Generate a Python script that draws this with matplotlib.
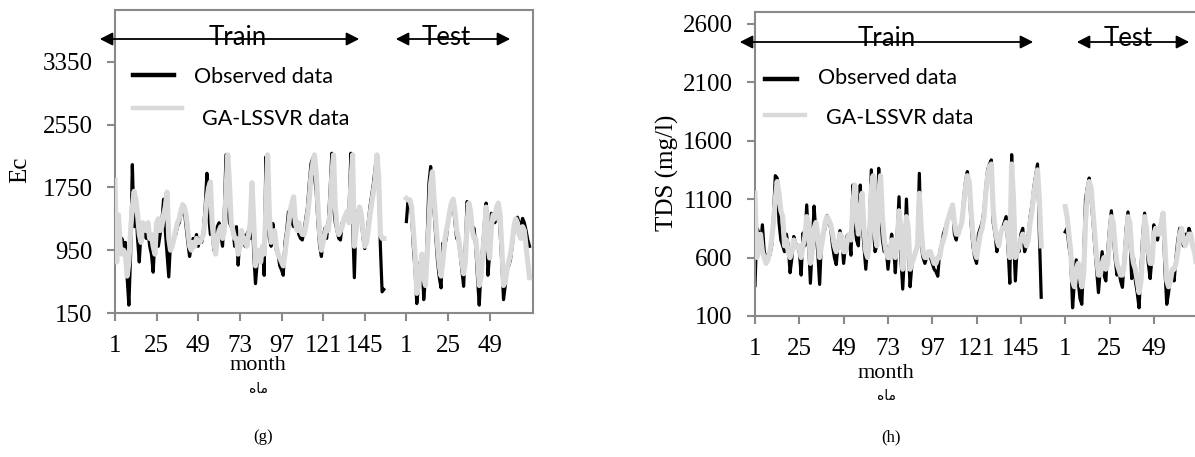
import numpy as np
import matplotlib
matplotlib.use("Agg")
import matplotlib.pyplot as plt
from matplotlib.lines import Line2D
from matplotlib.patches import FancyArrowPatch

# ---------------- data ----------------
n_train_slots = 168          # category slots used by the training period
tick_positions = [1, 25, 49, 73, 97, 121, 145, 169, 193, 217]
tick_labels = ['1', '25', '49', '73', '97', '121', '145', '1', '25', '49']

# (g) Ec
ec_train_obs = [950, 1000, 1150, 1050, 1100, 1000, 1050, 600, 250, 900,
                2040, 1250, 1550, 1100, 800, 1200, 1150, 1250, 1100, 1200,
                1000, 900, 670, 1100, 1200, 1000, 1150, 1300, 1600, 1200,
                900, 610, 1050, 1080, 1100, 1150, 1250, 1300, 1400, 1500,
                1450, 1250, 1050, 870, 1000, 1100, 1050, 1150, 1000, 1100,
                1050, 1200, 1500, 1930, 1400, 1150, 1200, 950, 950, 1250,
                1300, 1150, 1000, 1400, 2165, 1500, 1300, 1250, 1200, 1000,
                1250, 760, 1100, 1050, 1150, 1000, 1150, 1200, 1100, 1500,
                900, 524, 800, 860, 880, 1000, 630, 2140, 1300, 1100,
                1000, 1290, 1100, 950, 900, 750, 700, 630, 1050, 1200,
                1440, 1400, 1300, 1250, 1350, 1250, 1150, 1100, 1080, 1200,
                1350, 1500, 1800, 2050, 2120, 1900, 1700, 1300, 1000, 870,
                1100, 1230, 1100, 1300, 1700, 2185, 1500, 1300, 1200, 1100,
                1080, 1300, 1350, 1400, 1350, 1500, 2185, 1300, 600, 1400,
                1450, 1400, 1350, 1100, 970, 1100, 1300, 1500, 1650, 1800,
                2000, 2165, 1800, 1000, 420, 450]
ec_train_model = [1840, 800, 1400, 1000, 900, 950, 900, 620, 800, 1200,
                  1500, 1700, 1600, 1400, 1150, 1050, 1300, 1250, 1200, 1300,
                  1100, 1150, 1000, 900, 1300, 1350, 1200, 1250, 1400, 1500,
                  1690, 1100, 950, 1000, 1100, 1200, 1300, 1350, 1450, 1530,
                  1500, 1400, 1200, 1000, 950, 1050, 1000, 1100, 1050, 1050,
                  1100, 1150, 1350, 1600, 1750, 1820, 1300, 1050, 900, 1100,
                  1200, 1250, 1100, 1200, 1700, 2165, 1800, 1300, 1200, 1100,
                  1100, 900, 1000, 1200, 1050, 1100, 1000, 1150, 1300, 1810,
                  1300, 750, 900, 950, 800, 1000, 900, 1500, 2165, 1400,
                  1050, 1100, 1200, 1000, 900, 850, 800, 750, 900, 1100,
                  1250, 1450, 1550, 1630, 1300, 1200, 1300, 1200, 1150, 1150,
                  1250, 1400, 1600, 1900, 2050, 2165, 1950, 1500, 1150, 950,
                  1050, 1150, 1250, 1200, 1450, 1900, 2165, 1500, 1250, 1150,
                  1200, 1250, 1350, 1400, 1450, 1300, 1800, 2165, 1000, 1200,
                  1350, 1500, 1400, 1200, 1000, 1050, 1200, 1400, 1550, 1700,
                  1850, 2165, 1900, 1150, 1100, 1100]
ec_test_obs = [1315, 1600, 1550, 1400, 1000, 700, 270, 500, 800, 850,
               320, 600, 1100, 1800, 2016, 1700, 1440, 1100, 800, 600,
               470, 1040, 1000, 1100, 1300, 1400, 1500, 1590, 1300, 1100,
               1080, 900, 700, 490, 1000, 1570, 1500, 1300, 1250, 1230,
               1000, 600, 250, 700, 1000, 1300, 1550, 630, 900, 1420,
               1400, 1300, 1450, 1550, 1200, 800, 320, 500, 700, 750,
               830, 1000, 1200, 1300, 1370, 1300, 1250, 1355, 1300, 1200,
               1080, 1000]
ec_test_model = [1610, 1590, 1590, 1500, 1200, 900, 400, 500, 700, 900,
                 600, 500, 900, 1300, 1800, 1950, 1600, 1300, 1000, 750,
                 620, 800, 1050, 1200, 1300, 1450, 1550, 1600, 1450, 1200,
                 1100, 950, 800, 650, 800, 1300, 1550, 1450, 1200, 1100,
                 1100, 850, 500, 600, 900, 1200, 1500, 1000, 850, 1250,
                 1400, 1350, 1500, 1550, 1400, 1000, 500, 550, 700, 800,
                 900, 1050, 1250, 1350, 1300, 1150, 1100, 1250, 1200, 1000,
                 800, 600]

# (h) TDS
tds_train_obs = [360, 850, 820, 700, 880, 650, 600, 580, 620, 700,
                 950, 1300, 1280, 900, 750, 700, 650, 800, 700, 470,
                 600, 780, 720, 700, 650, 450, 810, 700, 1050, 750,
                 380, 700, 1040, 800, 650, 370, 750, 800, 850, 960,
                 900, 850, 700, 600, 540, 720, 830, 750, 550, 700,
                 790, 750, 620, 1220, 900, 750, 700, 1220, 900, 700,
                 500, 700, 850, 1350, 900, 650, 700, 1363, 1000, 750,
                 650, 700, 500, 650, 800, 700, 470, 800, 1120, 600,
                 330, 650, 1100, 700, 350, 550, 600, 640, 700, 1320,
                 700, 600, 550, 600, 650, 600, 550, 500, 480, 440,
                 650, 700, 800, 850, 900, 950, 1000, 1040, 800, 750,
                 850, 850, 900, 1100, 1250, 1335, 1200, 900, 700, 600,
                 550, 800, 850, 900, 1000, 1200, 1350, 1400, 1435, 900,
                 800, 650, 750, 800, 850, 900, 950, 700, 380, 1480,
                 800, 400, 700, 650, 800, 850, 650, 700, 800, 950,
                 1050, 1200, 1300, 1400, 800, 260]
tds_train_model = [1150, 600, 700, 800, 650, 600, 550, 580, 650, 750,
                   900, 1100, 1250, 1150, 1000, 950, 700, 750, 650, 600,
                   650, 750, 700, 680, 700, 600, 700, 780, 950, 900,
                   550, 650, 850, 900, 800, 600, 700, 800, 900, 950,
                   920, 880, 800, 700, 650, 700, 800, 780, 650, 650,
                   750, 800, 750, 1050, 1220, 950, 800, 1000, 1150, 850,
                   650, 600, 750, 1200, 1300, 800, 700, 1150, 1300, 950,
                   750, 650, 600, 600, 750, 750, 600, 700, 1000, 850,
                   500, 600, 950, 850, 500, 550, 600, 650, 700, 1150,
                   850, 650, 600, 600, 650, 650, 600, 550, 550, 600,
                   600, 700, 750, 800, 900, 950, 1000, 1050, 900, 800,
                   800, 850, 900, 1050, 1200, 1300, 1250, 1000, 800, 650,
                   600, 700, 800, 850, 950, 1150, 1300, 1380, 1400, 1000,
                   850, 750, 700, 800, 850, 850, 900, 800, 600, 1400,
                   1100, 600, 650, 700, 750, 800, 750, 700, 750, 900,
                   1000, 1150, 1250, 1350, 1100, 700]
tds_test_obs = [820, 850, 700, 600, 170, 400, 580, 400, 250, 200,
                600, 1100, 1200, 1280, 1100, 920, 700, 500, 300, 500,
                650, 450, 400, 650, 850, 1000, 800, 600, 450, 500,
                400, 345, 600, 850, 990, 800, 420, 600, 400, 300,
                170, 500, 800, 980, 750, 550, 420, 600, 880, 800,
                750, 850, 900, 950, 500, 200, 300, 450, 500, 400,
                600, 750, 850, 800, 700, 800, 750, 850, 800, 700,
                650, 600]
tds_test_model = [1035, 950, 800, 650, 400, 350, 500, 550, 450, 350,
                  450, 900, 1150, 1250, 1200, 1000, 800, 600, 450, 450,
                  550, 600, 500, 550, 750, 950, 900, 700, 550, 500,
                  450, 450, 550, 750, 950, 900, 650, 550, 500, 400,
                  300, 400, 650, 950, 850, 650, 550, 550, 800, 850,
                  800, 800, 900, 980, 700, 400, 350, 400, 500, 500,
                  550, 650, 800, 850, 750, 700, 750, 800, 800, 700,
                  650, 550]

ec_yticks = [150, 950, 1750, 2550, 3350]
tds_yticks = [100, 600, 1100, 1600, 2100, 2600]

# ---------------- figure ----------------
W, H = 1195, 457
fig = plt.figure(figsize=(W / 100, H / 100), dpi=100)

def fx(px):
    return px / W

def fy(py):
    return 1 - py / H

SERIF = 'Liberation Serif'
SANS = 'Lato'
SPINE = '#898989'
BLACK_LW = 2.3
GRAY_LW = 3.7
GRAY = '#d9d9d9'


def panel(rect, train_obs, train_mod, test_obs, test_mod, yticks, ylim):
    ax = fig.add_axes(rect)
    xt = np.arange(1, len(train_obs) + 1)
    xs = n_train_slots + np.arange(1, len(test_obs) + 1)
    ax.plot(xt, train_obs, color='black', lw=BLACK_LW, solid_joinstyle='round', zorder=2)
    ax.plot(xs, test_obs, color='black', lw=BLACK_LW, solid_joinstyle='round', zorder=2)
    ax.plot(xt, train_mod, color=GRAY, lw=GRAY_LW, solid_joinstyle='round', zorder=3)
    ax.plot(xs, test_mod, color=GRAY, lw=GRAY_LW, solid_joinstyle='round', zorder=3)
    ax.set_xlim(1, 242)
    ax.set_ylim(*ylim)
    ax.set_yticks(yticks)
    ax.set_yticklabels([str(v) for v in yticks])
    ax.set_xticks(tick_positions)
    ax.set_xticklabels(tick_labels)
    for s in ax.spines.values():
        s.set_color(SPINE)
        s.set_linewidth(1.5)
    ax.tick_params(axis='both', direction='out', length=6, width=1.5, color=SPINE,
                   labelsize=18, pad=10)
    for lab in ax.get_xticklabels() + ax.get_yticklabels():
        lab.set_fontfamily(SERIF)
    return ax


axL = panel([fx(115), fy(313), fx(533) - fx(115), fy(10) - fy(313)],
            ec_train_obs, ec_train_model, ec_test_obs, ec_test_model,
            ec_yticks, (150, 4010))
axR = panel([fx(755), fy(316), fx(1200) - fx(755), fy(12) - fy(316)],
            tds_train_obs, tds_train_model, tds_test_obs, tds_test_model,
            tds_yticks, (100, 2700))


def arrow(x0, x1, y):
    a = FancyArrowPatch((fx(x0), fy(y)), (fx(x1), fy(y)), transform=fig.transFigure,
                        arrowstyle='<|-|>,head_length=0.55,head_width=0.28',
                        mutation_scale=14, lw=1.3, color='black', zorder=10)
    fig.add_artist(a)


def legend_items(x0, y_obs, x_obs_end, tx_obs, by_obs, y_mod, x_mod_end, tx_mod, by_mod):
    fig.add_artist(Line2D([fx(x0), fx(x_obs_end)], [fy(y_obs), fy(y_obs)],
                          transform=fig.transFigure, color='black', lw=3.2))
    fig.text(fx(tx_obs), fy(by_obs), 'Observed data', family=SANS, fontsize=15.5,
             ha='left', va='baseline')
    fig.add_artist(Line2D([fx(x0), fx(x_mod_end)], [fy(y_mod), fy(y_mod)],
                          transform=fig.transFigure, color=GRAY, lw=3.2))
    fig.text(fx(tx_mod), fy(by_mod), 'GA-LSSVR data', family=SANS, fontsize=15.5,
             ha='left', va='baseline')


# left panel annotations
arrow(97, 362, 39)
arrow(393, 513, 39)
fig.text(fx(238), fy(45), 'Train', family=SANS, fontsize=18.5, ha='center', va='baseline')
fig.text(fx(446), fy(45), 'Test', family=SANS, fontsize=18.5, ha='center', va='baseline')
legend_items(133, 75, 174, 194, 83, 108, 182, 202, 125)

# right panel annotations
arrow(737, 1036, 42)
arrow(1074, 1192, 42)
fig.text(fx(887), fy(46), 'Train', family=SANS, fontsize=18.5, ha='center', va='baseline')
fig.text(fx(1128), fy(46), 'Test', family=SANS, fontsize=18.5, ha='center', va='baseline')
legend_items(765, 79, 797, 818, 84, 115, 805, 826, 124)

# axis titles
fig.text(fx(20), fy(170), 'Ec', family=SERIF, fontsize=18, rotation=90,
         ha='center', va='center')
fig.text(fx(667), fy(173), 'TDS (mg/l)', family=SERIF, fontsize=18, rotation=90,
         ha='center', va='center')

# labels under the panels
persian_month = '\uFEE9\uFE8E\uFEE3'   # "ماه" in visual (shaped) order
for cx, my, py, tag in [(258, 366, 389, '(g)'), (886, 373, 396, '(h)')]:
    fig.text(fx(cx), fy(my), 'month', family=SERIF, fontsize=16, ha='center', va='center')
    fig.text(fx(cx), fy(py), persian_month, family='DejaVu Sans', fontsize=10,
             ha='center', va='center')
    fig.text(fx(cx + 5), fy(437), tag, family=SERIF, fontsize=12, ha='center', va='center')

fig.savefig('out.png', dpi=100)
